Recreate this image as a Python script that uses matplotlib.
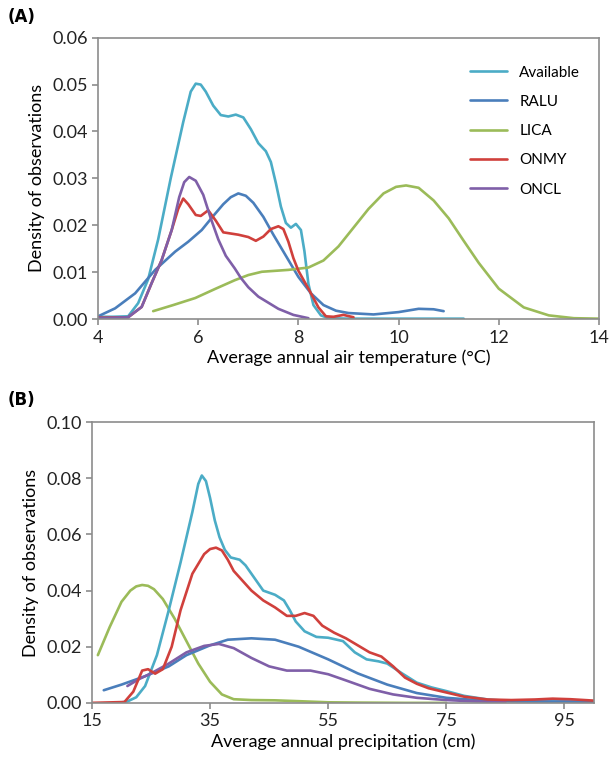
import numpy as np
import matplotlib
matplotlib.use("Agg")
import matplotlib.pyplot as plt

plt.rcParams['font.family'] = ['Lato', 'DejaVu Sans']
plt.rcParams['lines.solid_joinstyle'] = 'round'
plt.rcParams['lines.solid_capstyle'] = 'round'

# colours (Excel style palette)
c_avail = '#4bacc6'
c_ralu = '#4a7ebb'
c_lica = '#9bbb59'
c_onmy = '#d0403c'
c_oncl = '#7f5fa8'

series_names = ['Available', 'RALU', 'LICA', 'ONMY', 'ONCL']

# ---- panel A : average annual air temperature (deg C) ----
tA_avail = [4.0, 4.3, 4.6, 4.8, 5.0, 5.2, 5.45, 5.7, 5.85, 5.95, 6.05, 6.15, 6.3, 6.45,
            6.6, 6.75, 6.9, 7.05, 7.2, 7.35, 7.45, 7.55, 7.65, 7.75, 7.85, 7.95, 8.05,
            8.12, 8.2, 8.3, 8.45, 8.6, 9.0, 10.0, 11.3]
dA_avail = [0.0005, 0.0005, 0.0006, 0.0034, 0.0085, 0.017, 0.030, 0.042, 0.0485, 0.0502,
            0.050, 0.0485, 0.0455, 0.0435, 0.0432, 0.0436, 0.043, 0.0405, 0.0375, 0.0358,
            0.0335, 0.029, 0.024, 0.0205, 0.0195, 0.0203, 0.019, 0.0145, 0.0075, 0.003,
            0.0008, 0.0002, 0.0001, 0.0001, 0.0001]

tA_ralu = [4.0, 4.34, 4.74, 5.14, 5.54, 5.8, 6.07, 6.3, 6.5, 6.65, 6.8, 6.95, 7.1, 7.3,
           7.5, 7.75, 8.0, 8.25, 8.5, 8.75, 9.0, 9.5, 10.0, 10.4, 10.7, 10.9]
dA_ralu = [0.0006, 0.0023, 0.0055, 0.0105, 0.0144, 0.0165, 0.019, 0.022, 0.0245, 0.026,
           0.0268, 0.0263, 0.0248, 0.0218, 0.018, 0.0135, 0.009, 0.0055, 0.003, 0.0018,
           0.0013, 0.001, 0.0015, 0.0022, 0.0021, 0.0017]

tA_lica = [5.1, 5.5, 5.94, 6.35, 6.73, 7.0, 7.27, 7.8, 8.2, 8.5, 8.8, 9.1, 9.4, 9.7,
           9.95, 10.15, 10.4, 10.7, 11.0, 11.3, 11.6, 12.0, 12.5, 13.0, 13.5, 14.0]
dA_lica = [0.0017, 0.003, 0.0045, 0.0065, 0.0083, 0.0094, 0.0101, 0.0105, 0.011, 0.0125,
           0.0155, 0.0195, 0.0235, 0.0268, 0.0282, 0.0285, 0.028, 0.0253, 0.0215,
           0.0167, 0.012, 0.0065, 0.0025, 0.0008, 0.0002, 0.0001]

tA_onmy = [4.0, 4.6, 4.87, 5.07, 5.27, 5.47, 5.6, 5.7, 5.8, 5.95, 6.05, 6.2, 6.35,
           6.5, 6.8, 7.0, 7.15, 7.3, 7.45, 7.6, 7.7, 7.8, 7.9, 8.0, 8.2, 8.4,
           8.55, 8.7, 8.9, 9.1]
dA_onmy = [0.0003, 0.0004, 0.0026, 0.0077, 0.0126, 0.019, 0.0235, 0.0257, 0.0245, 0.0222,
           0.022, 0.0232, 0.021, 0.0185, 0.018, 0.0175, 0.0167, 0.0176, 0.0192, 0.0198,
           0.0192, 0.0165, 0.013, 0.0103, 0.0065, 0.0025, 0.0006, 0.0005, 0.0009, 0.0004]

tA_oncl = [4.0, 4.6, 4.87, 5.07, 5.27, 5.47, 5.62, 5.72, 5.82, 5.95, 6.1, 6.25, 6.4,
           6.55, 6.73, 6.85, 7.0, 7.2, 7.4, 7.6, 7.9, 8.2]
dA_oncl = [0.0002, 0.0004, 0.0026, 0.0077, 0.0126, 0.019, 0.026, 0.0292, 0.0303, 0.0295,
           0.0265, 0.0215, 0.017, 0.0135, 0.0108, 0.0088, 0.0068, 0.0048, 0.0035,
           0.0022, 0.0009, 0.0002]

# ---- panel B : average annual precipitation (cm) ----
pB_avail = [19.5, 21, 22.5, 24, 26, 28, 30, 32, 33, 33.6, 34.3, 35, 35.8, 36.6, 37.5,
            38.5, 40, 41, 42, 44, 46, 47.5, 48.5, 49.5, 51, 53, 55, 57.5, 59.5, 61.5,
            63.5, 65, 67.5, 70, 72.5, 75, 78, 82, 86, 92, 100]
dB_avail = [0.0, 0.0005, 0.002, 0.006, 0.017, 0.033, 0.05, 0.068, 0.078, 0.081, 0.079,
            0.073, 0.065, 0.059, 0.0545, 0.0518, 0.051, 0.049, 0.046, 0.040, 0.0385,
            0.0365, 0.033, 0.029, 0.0255, 0.0235, 0.0232, 0.022, 0.018, 0.0155, 0.0148,
            0.014, 0.0105, 0.0072, 0.0055, 0.0042, 0.0025, 0.0012, 0.0006, 0.0004, 0.0003]

pB_ralu = [17, 20, 24, 28, 31, 35, 38, 42, 46, 50, 55, 60, 65, 70, 75, 80, 85, 90, 95, 100]
dB_ralu = [0.0045, 0.0065, 0.0095, 0.013, 0.017, 0.0205, 0.0225, 0.023, 0.0225, 0.02,
           0.0155, 0.0105, 0.0065, 0.0035, 0.0018, 0.001, 0.0006, 0.0005, 0.0005, 0.0004]

pB_lica = [16, 18, 20, 21.5, 22.5, 23.5, 24.5, 25.5, 27, 29, 31, 33, 35, 37, 39, 42, 46,
           50, 55, 60, 68, 75]
dB_lica = [0.017, 0.027, 0.036, 0.0400, 0.0415, 0.042, 0.0417, 0.0405, 0.037, 0.030,
           0.022, 0.014, 0.0075, 0.003, 0.0013, 0.001, 0.0009, 0.0006, 0.0002, 0.0001,
           0.0, 0.0]

pB_onmy = [15, 20.5, 22, 23.5, 24.5, 25.7, 27, 28.5, 30, 32, 34, 35, 36, 37, 38, 39,
           40.5, 42, 44, 46, 48, 49.5, 51, 52.5, 54, 56, 58, 60, 62, 64, 66, 68, 70, 72,
           75, 78, 82, 86, 90, 93, 96, 100]
dB_onmy = [0.0, 0.0003, 0.004, 0.0115, 0.012, 0.0104, 0.012, 0.02, 0.033, 0.046, 0.053,
           0.0548, 0.0553, 0.0543, 0.051, 0.047, 0.0435, 0.040, 0.0365, 0.034, 0.031,
           0.031, 0.032, 0.031, 0.0275, 0.025, 0.023, 0.0205, 0.018, 0.0165, 0.013,
           0.009, 0.0068, 0.0052, 0.0037, 0.0022, 0.0012, 0.001, 0.0012, 0.0015, 0.0013,
           0.0008]

pB_oncl = [21, 23, 25, 28, 31, 34, 36.5, 39, 42, 45, 48, 52, 55, 58, 62, 66, 70, 75, 80, 85]
dB_oncl = [0.006, 0.0085, 0.0105, 0.014, 0.018, 0.0203, 0.021, 0.0195, 0.016, 0.013,
           0.0115, 0.0115, 0.0102, 0.008, 0.005, 0.003, 0.0018, 0.001, 0.0005, 0.0003]

fig = plt.figure(figsize=(6.13, 7.69), dpi=100)
axA = fig.add_axes([0.160, 0.585, 0.817, 0.366])
axB = fig.add_axes([0.150, 0.086, 0.819, 0.365])

lw = 1.9
axA.plot(tA_avail, dA_avail, color=c_avail, lw=lw, label='Available')
axA.plot(tA_ralu, dA_ralu, color=c_ralu, lw=lw, label='RALU')
axA.plot(tA_lica, dA_lica, color=c_lica, lw=lw, label='LICA')
axA.plot(tA_onmy, dA_onmy, color=c_onmy, lw=lw, label='ONMY')
axA.plot(tA_oncl, dA_oncl, color=c_oncl, lw=lw, label='ONCL')

axB.plot(pB_lica, dB_lica, color=c_lica, lw=lw)
axB.plot(pB_avail, dB_avail, color=c_avail, lw=lw)
axB.plot(pB_ralu, dB_ralu, color=c_ralu, lw=lw)
axB.plot(pB_oncl, dB_oncl, color=c_oncl, lw=lw)
axB.plot(pB_onmy, dB_onmy, color=c_onmy, lw=lw)

axA.set_xlim(4, 14)
axA.set_ylim(0, 0.06)
axA.set_xticks([4, 6, 8, 10, 12, 14])
axA.set_yticks(np.arange(0, 0.061, 0.01))
axA.set_yticklabels(['%.2f' % v for v in np.arange(0, 0.061, 0.01)])
axA.set_xlabel('Average annual air temperature (°C)', fontsize=13, labelpad=3)

axB.set_xlim(15, 100)
axB.set_ylim(0, 0.10)
axB.set_xticks([15, 35, 55, 75, 95])
axB.set_yticks(np.arange(0, 0.101, 0.02))
axB.set_yticklabels(['%.2f' % v for v in np.arange(0, 0.101, 0.02)])
axB.set_xlabel('Average annual precipitation (cm)', fontsize=13, labelpad=3)

for ax in (axA, axB):
    ax.set_ylabel('Density of observations', fontsize=13, labelpad=5)
    for s in ax.spines.values():
        s.set_color('#8c8c8c')
        s.set_linewidth(1.2)
    ax.tick_params(colors='#8c8c8c', labelcolor='#222222', labelsize=13,
                   length=4, width=1.2, direction='out')

axA.legend(loc='upper right', bbox_to_anchor=(0.99, 0.95), frameon=False,
           fontsize=11, handlelength=2.4, labelspacing=1.0, handletextpad=0.8)

fig.text(0.012, 0.972, '(A)', fontsize=12, fontweight='bold', family='DejaVu Sans')
fig.text(0.012, 0.473, '(B)', fontsize=12, fontweight='bold', family='DejaVu Sans')

fig.savefig('out.png', dpi=100)
